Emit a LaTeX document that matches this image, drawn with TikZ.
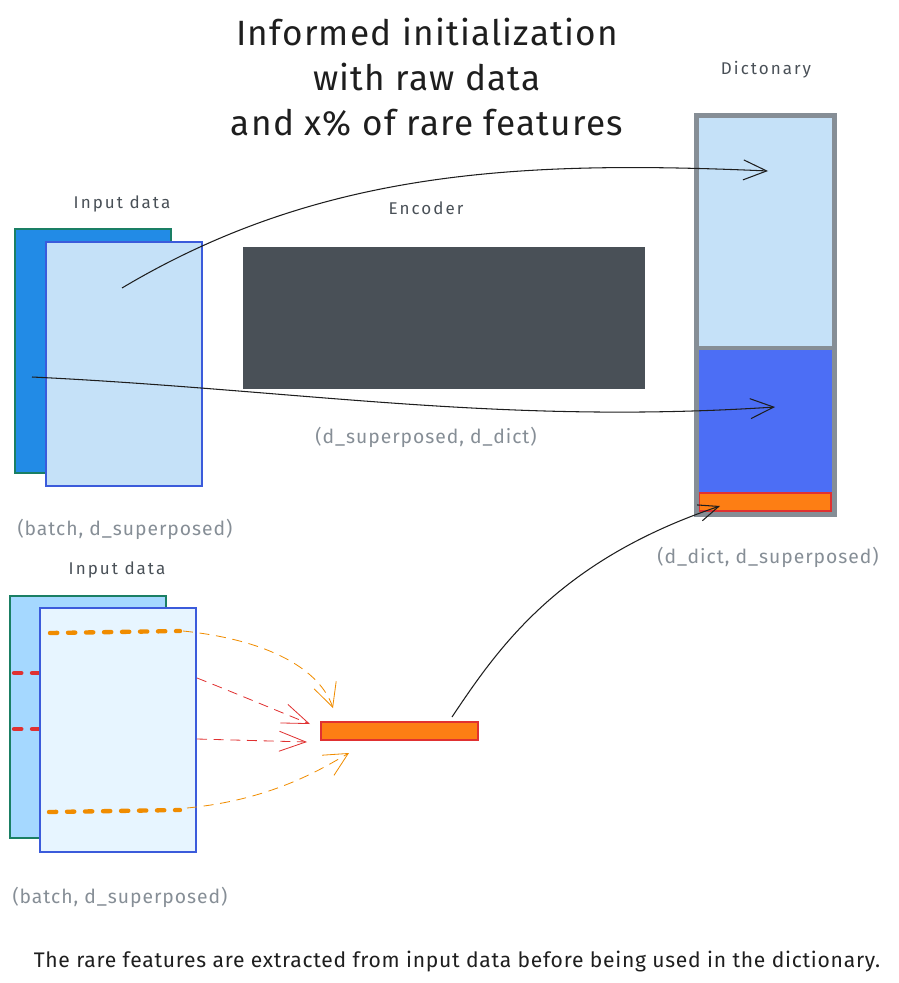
\documentclass[tikz,border=0pt]{standalone}
\usepackage{fontspec}
\setmainfont{Fira Sans}
\newfontfamily\titlefont[LetterSpace=3.5]{Fira Sans}
\newfontfamily\namefont[LetterSpace=12]{Fira Sans}
\newfontfamily\shapefont[LetterSpace=5]{Fira Sans}
\usetikzlibrary{arrows.meta,fit}

\definecolor{inkblack}{HTML}{1E1E1E}
\definecolor{inkgray}{HTML}{868E96}
\definecolor{labeldark}{HTML}{495057}
\definecolor{paleblue}{HTML}{C5E1F8}
\definecolor{deepblue}{HTML}{228BE6}
\definecolor{skyblue}{HTML}{A5D8FF}
\definecolor{iceblue}{HTML}{E7F5FF}
\definecolor{edgeblue}{HTML}{3B5BDB}
\definecolor{edgegreen}{HTML}{1A7F64}
\definecolor{encgray}{HTML}{495057}
\definecolor{indigo}{HTML}{4C6EF5}
\definecolor{rareorange}{HTML}{FD7E14}
\definecolor{rarered}{HTML}{E03131}
\definecolor{dashorange}{HTML}{F08C00}

\tikzset{
  sheet/.style={inner sep=0pt, line width=0.9pt},
  shapelabel/.style={text=inkgray, font=\shapefont\fontsize{16.5}{19}\selectfont},
  namelabel/.style={text=labeldark, font=\namefont\fontsize{14.5}{17}\selectfont},
  flow/.style={inkblack, line width=0.9pt, -{Straight Barb[length=7mm,width=6mm]}},
  pick/.style={dashed, dash pattern=on 3mm off 2mm, line width=0.7pt},
  row/.style={line width=1.3mm, line cap=round, dash pattern=on 2.2mm off 3.2mm}
}

\begin{document}
\begin{tikzpicture}[x=0.3mm,y=-0.3mm]
    \useasboundingbox (0,0) rectangle (898,983);

    % Title
    \node[inkblack, align=center, font=\titlefont\fontsize{30}{38.4}\selectfont] (title) at (427,77)
      {Informed initialization\\with raw data\\and x\% of rare features};

    % Dictionary
    \node[namelabel] (dictlabel) at (766,70) {Dictonary};
    \node[sheet, fill=paleblue, fit={(697,116) (834,347)}] (dicttop) {};
    \node[sheet, fill=indigo, fit={(697,347) (834,514)}] (dictbot) {};
    \node[sheet, fill=rareorange, draw=rarered, fit={(699,493) (831,511)}] (dictrare) {};
    \draw[inkgray, line width=1.3mm] (dicttop.north west) rectangle (dictbot.south east);
    \draw[inkgray, line width=1.2mm] (dicttop.south west) -- (dicttop.south east);
    \node[shapelabel] (dictshape) at (768,557) {(d\_dict, d\_superposed)};

    % Input data, raw
    \node[namelabel] (rawlabel) at (122,204) {Input data};
    \node[sheet, fill=deepblue, draw=edgegreen, fit={(15,229) (171,473)}] (rawback) {};
    \node[sheet, fill=paleblue, draw=edgeblue, fit={(46,242) (202,486)}] (rawfront) {};
    \node[shapelabel] (rawshape) at (125,529) {(batch, d\_superposed)};

    % Encoder
    \node[namelabel] (enclabel) at (426,208) {Encoder};
    \node[sheet, fill=encgray, fit={(243,247) (645,389)}] (encoder) {};
    \node[shapelabel] (encshape) at (426,437) {(d\_superposed, d\_dict)};

    % Input data, rare features
    \node[namelabel] (rarelabel) at (117,570) {Input data};
    \node[sheet, fill=skyblue, draw=edgegreen, fit={(10,596) (166,838)}] (rareback) {};
    \draw[row, rarered] (14,673) -- (40,673);
    \draw[row, rarered] (14,729) -- (40,729);
    \node[sheet, fill=iceblue, draw=edgeblue, fit={(40,608) (196,852)}] (rarefront) {};
    \draw[row, dashorange] (50,633) -- (180,631);
    \draw[row, dashorange] (49,812) -- (180,810);
    \node[shapelabel] (rareshape) at (120,897) {(batch, d\_superposed)};

    % Extracted rare features
    \node[sheet, fill=rareorange, draw=rarered, fit={(321,722) (478,740)}] (rarebar) {};

    % Connector ends
    \coordinate (rawA) at (122,288);
    \coordinate (rawB) at (32,377);
    \coordinate (dictA) at (768,171);
    \coordinate (dictB) at (775,407);
    \coordinate (rowA) at (183,631);
    \coordinate (rowB) at (197,678);
    \coordinate (rowC) at (197,739);
    \coordinate (rowD) at (187,808);
    \coordinate (barA) at (333,708);
    \coordinate (barB) at (310,724);
    \coordinate (barC) at (307,742);
    \coordinate (barD) at (349,753);
    \coordinate (barE) at (452,717);
    \coordinate (dictC) at (720,506);

    % Copies into the dictionary
    \draw[flow] (rawA) .. controls (320,170) and (520,160) .. (dictA);
    \draw[flow] (rawB) .. controls (300,390) and (500,425) .. (dictB);
    \draw[flow, -{Straight Barb[length=6mm,width=5mm]}] (barE) .. controls (500,645) and (560,560) .. (dictC);

    % Picking the rare rows
    \draw[pick, dashorange, -{Straight Barb[length=7mm,width=7mm]}] (rowA) .. controls (270,640) and (320,670) .. (barA);
    \draw[pick, rarered, -{Straight Barb[length=8mm,width=6mm]}] (rowB) .. controls (240,695) and (280,712) .. (barB);
    \draw[pick, rarered, -{Straight Barb[length=8mm,width=6mm]}] (rowC) -- (barC);
    \draw[pick, dashorange, -{Straight Barb[length=7mm,width=7mm]}] (rowD) .. controls (270,800) and (320,770) .. (barD);

    % Footer
    \node[inkblack, font=\titlefont\fontsize{18}{21}\selectfont] (footer) at (457,962)
      {The rare features are extracted from input data before being used in the dictionary.};
\end{tikzpicture}
\end{document}
